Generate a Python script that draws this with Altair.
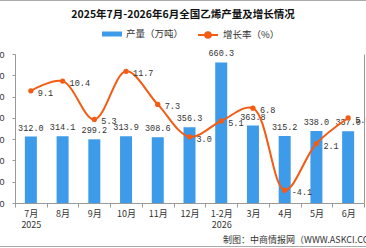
import altair as alt
import pandas as pd

# Monthly ethylene output (10k tonnes) and year-on-year growth (%)
months = ["7月", "8月", "9月", "10月", "11月", "12月", "1-2月", "3月", "4月", "5月", "6月"]
output = [312.0, 314.1, 299.2, 313.9, 308.6, 356.3, 660.3, 363.8, 315.2, 338.0, 337.0]
growth = [9.1, 10.4, 5.3, 11.7, 7.3, 3.0, 5.1, 6.8, -4.1, 2.1, 5.5]
left_ticks = [0, 100, 200, 300, 400, 500, 600, 700]

BAR_NAME = "产量（万吨）"
LINE_NAME = "增长率（%）"
TITLE = "2025年7月-2026年6月全国乙烯产量及增长情况"
SOURCE = "制图：中商情报网（WWW.ASKCI.COM）"

BLUE = "#3d9be9"
ORANGE = "#f45b13"
FONT = "Noto Sans CJK SC"
NUMFONT = "Liberation Mono"

df = pd.DataFrame({
    "month": months,
    "output": output,
    "growth": growth,
    "out_label": [f"{v:.1f}" for v in output],
    "gr_label": [f"{v:.1f}" for v in growth],
    "s1": BAR_NAME,
    "s2": LINE_NAME,
})

x_enc = alt.X(
    "month:N", sort=months, title=None,
    scale=alt.Scale(paddingInner=0, paddingOuter=0),
    axis=alt.Axis(
        tickBand="extent", tickSize=4, labelPadding=2, labelAngle=0,
        labelFontSize=9, labelColor="#333", labelFont=FONT,
        labelLineHeight=11, labelBaseline="top",
        domainColor="#999", tickColor="#999",
        labelExpr="datum.label == '7月' ? ['7月', '2025'] : "
                  "datum.label == '1-2月' ? ['1-2月', '2026'] : datum.label",
    ),
)

y_left = alt.Y(
    "output:Q", title=None,
    scale=alt.Scale(domain=[0, 700], nice=False, zero=True),
    axis=alt.Axis(values=left_ticks, grid=False, tickSize=3, labelPadding=8,
                  labelFontSize=9, labelColor="#333", domainColor="#999",
                  tickColor="#999"),
)

y_right = alt.Y(
    "growth:Q", title=None,
    scale=alt.Scale(domain=[-5.8, 14], nice=False, zero=False),
    axis=alt.Axis(orient="right", grid=False, labels=False, ticks=False,
                  domainColor="#999"),
)

bar_legend = alt.Legend(
    title=None, orient="none", legendX=87, legendY=-30,
    symbolType="M-1,-0.25H1V0.25H-1Z", symbolSize=400, symbolStrokeWidth=0,
    labelFont=FONT, labelFontSize=9.5, labelColor="#333",
)
line_legend = alt.Legend(
    title=None, orient="none", legendX=182, legendY=-30,
    symbolType="M-1,0H1M0.28,0A0.28,0.28 0 1,1 -0.28,0A0.28,0.28 0 1,1 0.28,0",
    symbolSize=400, symbolStrokeWidth=2, symbolFillColor=ORANGE,
    labelFont=FONT, labelFontSize=9.5, labelColor="#333",
)

bars = alt.Chart(df).mark_bar(size=12).encode(
    x=x_enc, y=y_left,
    color=alt.Color("s1:N", scale=alt.Scale(range=[BLUE]), legend=bar_legend),
)
bar_text = alt.Chart(df).mark_text(
    baseline="bottom", dy=-4, fontSize=8.5, font=NUMFONT, color="#333"
).encode(x=x_enc, y=y_left, text="out_label:N")

left = alt.layer(bars, bar_text)

line = alt.Chart(df).mark_line(
    interpolate="catmull-rom", strokeWidth=2
).encode(
    x=x_enc, y=y_right,
    color=alt.Color("s2:N", scale=alt.Scale(range=[ORANGE]), legend=line_legend),
)
dots = alt.Chart(df).mark_circle(size=28, color=ORANGE, opacity=1).encode(
    x=x_enc, y=y_right
)
line_text = alt.Chart(df).mark_text(
    align="left", baseline="middle", dx=7, dy=2, fontSize=8.5, font=NUMFONT,
    color="#333"
).encode(x=x_enc, y=y_right, text="gr_label:N")

right = alt.layer(line, dots, line_text)

# Heading and source note, placed relative to the plot area
heading = alt.Chart(pd.DataFrame({"t": [TITLE]})).mark_text(
    align="center", baseline="middle", fontSize=10.5, fontWeight="bold",
    font=FONT, color="#111"
).encode(x=alt.value(168), y=alt.value(-39), text="t:N")

source = alt.Chart(pd.DataFrame({"t": [SOURCE]})).mark_text(
    align="left", baseline="middle", fontSize=9, font=FONT, color="#333"
).encode(x=alt.value(208), y=alt.value(186), text="t:N")

frame_top = alt.Chart(pd.DataFrame({"k": [0]})).mark_rule(
    color="#aaa", strokeWidth=1
).encode(x=alt.value(-15), x2=alt.value(351), y=alt.value(-53.5))
frame_bottom = alt.Chart(pd.DataFrame({"k": [0]})).mark_rule(
    color="#aaa", strokeWidth=1
).encode(x=alt.value(-15), x2=alt.value(351), y=alt.value(192.5))

chart = alt.layer(left, right, heading, source, frame_top, frame_bottom).resolve_scale(
    y="independent", color="independent"
).properties(
    width=349, height=149,
    padding={"left": 15, "top": 54, "right": 2, "bottom": 45},
    autosize=alt.AutoSizeParams(type="none"),
    background="white",
).configure_view(stroke=None)

chart.save("out.html", embed_options={"renderer": "svg", "actions": False})
